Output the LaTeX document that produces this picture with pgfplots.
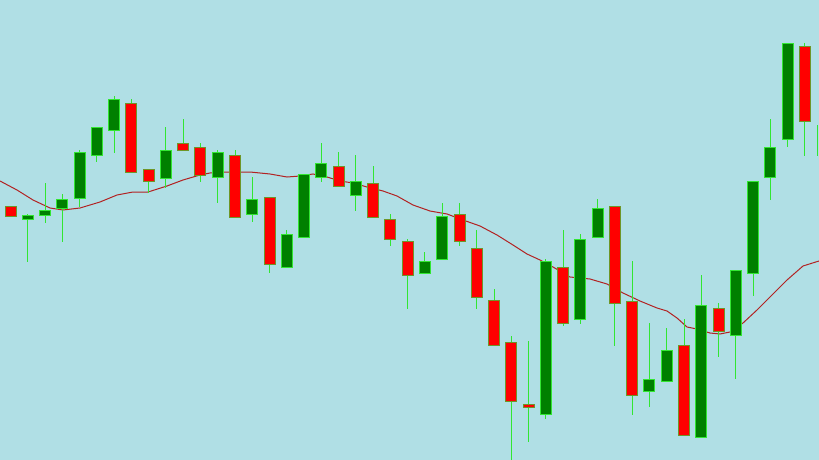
\documentclass[border=0pt]{standalone}
\usepackage{pgfplots}
\pgfplotsset{compat=1.18}
\definecolor{bgcol}{RGB}{176,223,229}
\definecolor{gbody}{RGB}{0,128,0}
\definecolor{gline}{RGB}{50,230,50}
\definecolor{rbody}{RGB}{255,0,0}
\definecolor{rline}{RGB}{110,150,40}
\definecolor{maline}{RGB}{178,34,34}
\begin{document}
\begin{tikzpicture}
\begin{axis}[
    width=819pt, height=460pt, scale only axis,
    xmin=0, xmax=819, ymin=0, ymax=460, y dir=reverse,
    axis line style={draw=none}, ticks=none,
    axis background/.style={fill=bgcol},
    candleG/.style={fill=gbody, draw=gline, line width=1pt},
    candleR/.style={fill=rbody, draw=rline, line width=1pt},
    wick/.style={draw=gline, line width=1pt},
]
% moving average (drawn behind the candles)
\addplot[draw=maline, line width=1pt] coordinates {
(0,181) (17,190) (33,200) (50,208) (63,210) (80,208) (100,202) (117,195)
(133,192) (148,192) (167,186) (183,180) (200,175) (210,173) (220,172)
(250,172) (270,174) (287,177) (300,176) (313,174) (327,177) (340,181)
(353,183) (367,187) (383,191) (397,196) (413,205) (430,211) (447,214)
(463,220) (480,226) (497,235) (513,245) (527,254) (540,260) (553,267)
(570,277) (590,279) (607,284) (623,293) (640,301) (657,308) (667,311)
(677,318) (687,327) (697,329) (710,333) (720,334) (730,332) (743,323)
(757,310) (770,297) (787,280) (803,266) (819,261)
};
% index / body top / body bottom / high / low / colour
\foreach \i/\ty/\by/\hy/\ly/\k in {
 1/206/216/206/216/R, 2/215/219/214/262/G, 3/210/215/183/223/G,
 4/199/208/194/242/G, 5/152/198/150/207/G, 6/127/155/127/162/G,
 7/99/130/96/153/G, 8/103/172/99/172/R, 9/169/181/169/193/R,
 10/150/178/127/188/G, 11/143/150/119/150/R, 12/147/175/143/182/R,
 13/152/177/150/203/G, 14/155/217/150/217/R, 15/199/214/177/222/G,
 16/197/264/197/273/R, 17/234/267/230/267/G, 18/174/237/174/237/G,
 19/163/177/143/182/G, 20/166/186/152/186/R, 21/181/195/155/211/G,
 22/183/217/166/217/R, 23/219/239/214/246/R, 24/241/275/239/309/R,
 25/261/273/252/273/G, 26/216/259/203/259/G, 27/214/241/203/246/R,
 28/248/297/230/309/R, 29/300/345/289/345/R, 30/342/401/336/462/R,
 31/404/407/341/442/R, 32/261/414/259/419/G, 33/267/323/230/326/R,
 34/239/319/234/324/G, 35/208/237/199/237/G, 36/206/303/206/346/R,
 37/301/395/261/415/R, 38/379/391/323/407/G, 39/350/381/328/381/G,
 40/345/435/319/435/R, 41/305/437/275/437/G, 42/308/331/303/357/R,
 43/270/335/270/379/G, 44/181/273/181/296/G, 45/147/177/119/200/G,
 46/44/139/44/147/G, 47/47/121/43/156/R}{
  \pgfmathsetmacro{\xc}{10.5+17.27*(\i-1)}
  \pgfmathsetmacro{\xl}{\xc-5.5}
  \pgfmathsetmacro{\xr}{\xc+5.5}
  \edef\temp{
    \noexpand\addplot[wick] coordinates {(\xc,\hy) (\xc,\ly)};
    \noexpand\addplot[candle\k] coordinates {(\xl,\ty) (\xr,\ty) (\xr,\by) (\xl,\by)} --cycle;
  }
  \temp
}
% last, partly visible candle at the right edge
\addplot[wick] coordinates {(817,125) (817,156)};
\end{axis}
\end{tikzpicture}
\end{document}
